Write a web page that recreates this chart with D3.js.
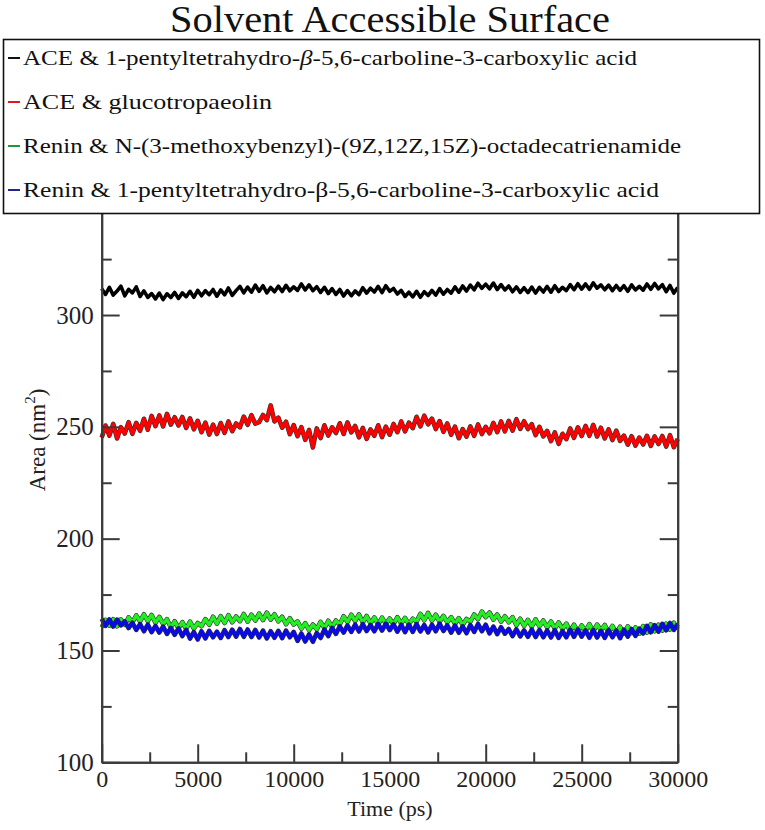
<!DOCTYPE html>
<html>
<head>
<meta charset="utf-8">
<script src="https://cdn.jsdelivr.net/npm/d3@7/dist/d3.min.js"></script>
<style>
  html, body { margin: 0; padding: 0; background: #fff; }
  svg { display: block; }
  text { font-family: "Liberation Serif", "DejaVu Serif", serif; }
</style>
</head>
<body>
<svg id="chart" width="765" height="830"></svg>
<script>
// ---------------- DATA ----------------
const chartTitle = "Solvent Accessible Surface";
const xLabel = "Time (ps)";
const timeStep = 200; // ps between samples
const xTicksMajor = [0, 5000, 10000, 15000, 20000, 25000, 30000];
const xTicksMinor = [2500, 7500, 12500, 17500, 22500, 27500];
const yTicksMajor = [100, 150, 200, 250, 300];
const yTicksMinor = [125, 175, 225, 275, 325];

const aceCarboline = [
  311.8, 309.2, 312.4, 308.9, 310.7, 312.9,
  308.6, 311.5, 309.9, 312.6, 308.3,
  310.8, 307.9, 309.6, 307.2, 309.8,
  306.9, 309.5, 307.8, 310.1, 307.4,
  309.9, 308.2, 310.6, 307.9, 311.0,
  308.6, 310.9, 309.1, 311.4, 308.4,
  311.2, 309.0, 312.1, 308.8, 310.9,
  312.8, 309.9, 312.5, 310.2, 313.4,
  310.6, 313.1, 309.9, 312.3, 310.4,
  312.9, 310.5, 313.3, 310.8, 312.6,
  311.0, 313.9, 311.2, 313.5, 310.9,
  312.7, 310.1, 312.4, 309.6, 311.8,
  309.2, 311.4, 308.5, 310.9, 308.6,
  310.8, 309.1, 312.2, 309.8, 312.0,
  310.3, 312.8, 310.0, 313.1, 310.6,
  311.9, 309.4, 311.0, 308.3, 310.2,
  308.1, 310.6, 307.9, 310.4, 308.7,
  311.0, 308.9, 311.8, 309.3, 311.4,
  309.8, 312.6, 310.2, 313.0, 310.7,
  313.4, 311.3, 314.2, 311.9, 313.8,
  311.7, 314.3, 311.4, 313.6, 311.2,
  313.0, 310.4, 312.6, 310.1, 312.2,
  310.0, 312.5, 309.8, 312.4, 310.3,
  312.8, 310.2, 313.1, 310.5, 312.4,
  310.9, 313.6, 311.3, 314.0, 311.6,
  313.9, 311.5, 314.4, 312.0, 313.5,
  311.3, 313.4, 310.9, 313.2, 311.0,
  313.1, 310.6, 313.5, 311.2, 312.8,
  311.1, 313.9, 311.5, 314.1, 311.7,
  313.6, 310.4, 313.2, 309.8, 312.3
];

const aceGlucotropaeolin = [
  245.2, 250.6, 246.1, 251.3, 244.8, 249.9,
  247.0, 252.1, 246.9, 251.8, 248.2,
  253.6, 248.7, 254.9, 250.3, 255.1,
  250.2, 255.8, 251.0, 254.3, 250.6,
  254.4, 249.5, 253.8, 248.9, 252.7,
  247.6, 251.9, 246.5, 251.0, 246.8,
  251.7, 247.3, 252.4, 248.1, 251.5,
  249.8, 254.6, 250.9, 255.2, 251.4,
  252.1, 255.3, 253.0, 259.6, 252.4,
  254.1, 249.6, 252.3, 246.7, 250.8,
  245.8, 249.9, 244.2, 248.6, 240.8,
  249.3, 245.0, 250.7, 246.1, 249.8,
  247.2, 251.6, 246.8, 252.0, 247.5,
  250.4, 245.3, 249.5, 244.6, 248.9,
  246.0, 250.7, 245.4, 250.1, 246.5,
  251.3, 247.6, 252.4, 248.0, 251.9,
  249.4, 254.5, 250.2, 255.0, 251.1,
  253.7, 249.0, 252.6, 247.8, 251.5,
  246.4, 250.1, 244.9, 249.0, 245.6,
  250.2, 246.0, 251.1, 246.8, 250.0,
  247.1, 251.8, 247.6, 252.4, 248.0,
  252.7, 248.3, 253.4, 249.1, 252.5,
  249.0, 251.2, 246.3, 250.0, 245.7,
  248.2, 243.6, 247.5, 242.4, 246.9,
  244.5, 249.3, 245.1, 249.8, 245.9,
  250.4, 246.0, 250.9, 245.7, 249.6,
  244.8, 248.9, 244.1, 248.3, 243.7,
  246.1, 242.0, 245.8, 241.6, 245.2,
  242.1, 246.0, 241.5, 245.7, 242.3,
  245.9, 241.2, 246.3, 240.9, 244.6
];

const reninOctadecatrienamide = [
  160.4, 163.7, 161.1, 164.0, 160.8, 163.9,
  161.5, 164.8, 162.6, 165.7, 163.0,
  166.2, 163.1, 165.9, 162.4, 165.0,
  161.8, 164.0, 160.2, 163.1, 159.9,
  162.7, 159.6, 162.9, 159.8, 162.3,
  160.9, 164.0, 161.5, 165.1, 162.0,
  165.4, 162.3, 165.8, 162.6, 165.2,
  163.1, 166.3, 162.9, 166.0, 163.4,
  166.5, 163.6, 166.9, 163.8, 166.2,
  163.0, 165.1, 161.7, 164.4, 161.6,
  163.0, 159.7, 162.2, 159.1, 161.6,
  159.4, 162.8, 160.0, 163.3, 160.5,
  163.4, 161.6, 165.3, 162.7, 166.0,
  163.2, 166.1, 162.5, 165.4, 162.1,
  164.8, 161.6, 164.7, 161.9, 164.3,
  161.8, 164.9, 162.0, 164.6, 161.7,
  164.2, 162.9, 166.4, 163.5, 166.8,
  163.3, 166.0, 162.8, 165.5, 162.6,
  164.9, 161.9, 164.5, 161.4, 164.1,
  162.9, 166.1, 164.0, 167.4, 164.9,
  167.0, 163.8, 166.1, 162.9, 165.3,
  162.6, 164.9, 161.3, 164.2, 161.0,
  163.7, 160.6, 163.9, 160.8, 163.4,
  160.3, 163.0, 159.8, 162.5, 159.7,
  162.0, 158.6, 161.5, 158.4, 161.2,
  158.7, 161.8, 158.5, 161.6, 159.0,
  161.4, 158.1, 161.0, 157.9, 160.6,
  157.6, 160.8, 157.8, 160.3, 157.5,
  160.9, 158.0, 161.7, 158.6, 161.5,
  158.9, 162.0, 159.3, 162.4, 159.8
];

const reninCarboline = [
  164.1, 161.0, 163.9, 160.7, 163.8, 161.2,
  163.0, 160.0, 162.4, 159.2, 161.8,
  158.6, 161.6, 158.2, 161.0, 158.0,
  160.7, 157.4, 160.1, 157.0, 159.9,
  156.4, 159.2, 155.3, 158.3, 154.9,
  158.6, 155.4, 158.8, 155.9, 158.4,
  155.6, 159.1, 156.0, 159.3, 156.2,
  159.6, 156.1, 159.4, 156.0, 159.2,
  155.8, 158.9, 155.4, 158.6, 155.7,
  158.8, 155.5, 158.9, 155.9, 158.3,
  154.3, 157.6, 154.0, 157.2, 153.9,
  157.8, 155.6, 159.4, 156.4, 160.1,
  157.4, 160.8, 158.0, 161.2, 158.3,
  161.6, 158.5, 161.8, 158.7, 161.4,
  158.6, 161.9, 158.9, 162.0, 159.1,
  161.7, 158.4, 161.5, 158.2, 161.6,
  158.3, 161.8, 158.5, 161.4, 158.1,
  161.5, 158.6, 162.0, 158.7, 161.3,
  158.0, 161.2, 157.9, 160.8, 157.7,
  161.4, 158.3, 161.9, 158.6, 161.5,
  157.6, 160.7, 157.3, 160.4, 157.5,
  159.6, 156.4, 159.5, 156.3, 159.0,
  156.1, 159.4, 156.0, 159.2, 155.9,
  159.0, 155.8, 159.1, 155.6, 158.7,
  155.9, 159.3, 156.1, 159.4, 156.2,
  159.0, 155.7, 159.2, 155.8, 158.8,
  155.6, 159.1, 155.9, 158.9, 155.5,
  159.3, 156.2, 159.6, 156.5, 159.8,
  157.6, 161.0, 158.1, 161.3, 158.4,
  161.9, 159.0, 162.3, 159.2, 161.8
];

const seriesNames = [
  "ACE & 1-pentyltetrahydro-β-5,6-carboline-3-carboxylic acid",
  "ACE & glucotropaeolin",
  "Renin & N-(3-methoxybenzyl)-(9Z,12Z,15Z)-octadecatrienamide",
  "Renin & 1-pentyltetrahydro-β-5,6-carboline-3-carboxylic acid"
];
const seriesColors = ["#000000", "#ff0000", "#22ee22", "#0a0ae6"];
const legendColors = ["#111111", "#e8141c", "#1a9a3a", "#24248c"];
const seriesValues = [aceCarboline, aceGlucotropaeolin, reninOctadecatrienamide, reninCarboline];

// ---------------- CHART ----------------
(function () {
const FONT = '"Liberation Serif", "DejaVu Serif", serif';
const svg = d3.select("#chart");
const pLeft = 101.7, pRight = 677.7, pTop = 203.2, pBottom = 762.3;
const x = d3.scaleLinear().domain([0, 30000]).range([pLeft, pRight]);
const y = d3.scaleLinear().domain([100, 350]).range([pBottom, pTop]);
const axisColor = "#3a3a3a";

const line = d3.line().x((d, i) => x(i * timeStep)).y(d => y(d));

const plot = svg.append("g");
seriesValues.forEach((vals, si) => {
  if (si > 0) {
    plot.append("path").datum(vals).attr("d", line)
      .attr("fill", "none").attr("stroke", "#1a1a1a").attr("stroke-width", 4.6)
      .attr("stroke-linejoin", "round").attr("stroke-opacity", 0.9);
  }
  plot.append("path").datum(vals).attr("d", line)
    .attr("fill", "none").attr("stroke", seriesColors[si])
    .attr("stroke-width", si > 0 ? 3.4 : 3.6).attr("stroke-linejoin", "round");
});

function styleAxis(g) {
  g.selectAll("path, line").attr("stroke", axisColor).attr("stroke-width", 2);
  g.selectAll("text").attr("fill", "#222").attr("font-family", FONT);
}

// bottom axis
svg.append("g").attr("transform", `translate(0,${pBottom})`)
  .call(d3.axisBottom(x).tickValues(xTicksMajor).tickSize(-18).tickSizeOuter(0).tickPadding(8).tickFormat(d3.format("d")))
  .call(g => g.selectAll("text").attr("font-size", 24))
  .call(styleAxis);
svg.append("g").attr("transform", `translate(0,${pBottom})`)
  .call(d3.axisBottom(x).tickValues(xTicksMinor).tickSize(-10).tickSizeOuter(0).tickFormat(""))
  .call(styleAxis);

// left axis
svg.append("g").attr("transform", `translate(${pLeft},0)`)
  .call(d3.axisLeft(y).tickValues(yTicksMajor).tickSize(-18).tickSizeOuter(0).tickPadding(8).tickFormat(d3.format("d")))
  .call(g => g.selectAll("text").attr("font-size", 25))
  .call(styleAxis);
svg.append("g").attr("transform", `translate(${pLeft},0)`)
  .call(d3.axisLeft(y).tickValues(yTicksMinor).tickSize(-10).tickSizeOuter(0).tickFormat(""))
  .call(styleAxis);

// right axis
svg.append("g").attr("transform", `translate(${pRight},0)`)
  .call(d3.axisRight(y).tickValues(yTicksMajor).tickSize(-18).tickSizeOuter(0).tickFormat(""))
  .call(styleAxis);
svg.append("g").attr("transform", `translate(${pRight},0)`)
  .call(d3.axisRight(y).tickValues(yTicksMinor).tickSize(-10).tickSizeOuter(0).tickFormat(""))
  .call(styleAxis);

// axis titles
svg.append("text").attr("x", 390).attr("y", 816)
  .attr("text-anchor", "middle").attr("font-family", FONT).attr("font-size", 22)
  .attr("fill", "#222").text(xLabel);

const yl = svg.append("text")
  .attr("transform", `translate(45,440) rotate(-90)`)
  .attr("text-anchor", "middle").attr("font-family", FONT).attr("font-size", 23).attr("fill", "#222");
yl.append("tspan").text("Area (nm");
yl.append("tspan").attr("font-size", 15).attr("dy", -10).text("2");
yl.append("tspan").attr("dy", 10).text(")");

// title
svg.append("text").attr("x", 390).attr("y", 32).attr("text-anchor", "middle")
  .attr("font-family", FONT).attr("font-size", 37).attr("fill", "#111")
  .attr("textLength", 440).attr("lengthAdjust", "spacingAndGlyphs").text(chartTitle);

// legend
const legend = svg.append("g");
legend.append("rect").attr("x", 3.5).attr("y", 39.5).attr("width", 756).attr("height", 174)
  .attr("fill", "#fff").attr("stroke", "#111").attr("stroke-width", 1.6);
const rowY = [58, 102, 146, 190];
const rowLen = [614, 249, 658, 636];
seriesNames.forEach((name, i) => {
  legend.append("line").attr("x1", 8).attr("x2", 20).attr("y1", rowY[i]).attr("y2", rowY[i])
    .attr("stroke", legendColors[i]).attr("stroke-width", 2);
  const t = legend.append("text").attr("x", 23).attr("y", rowY[i] + 7)
    .attr("font-family", FONT).attr("font-size", 22).attr("fill", "#111")
    .attr("textLength", rowLen[i]).attr("lengthAdjust", "spacingAndGlyphs");
  if (i === 0) {
    const parts = name.split("β");
    t.append("tspan").text(parts[0]);
    t.append("tspan").attr("font-style", "italic").text("β");
    t.append("tspan").text(parts[1]);
  } else {
    t.text(name);
  }
});
})();
</script>
</body>
</html>
